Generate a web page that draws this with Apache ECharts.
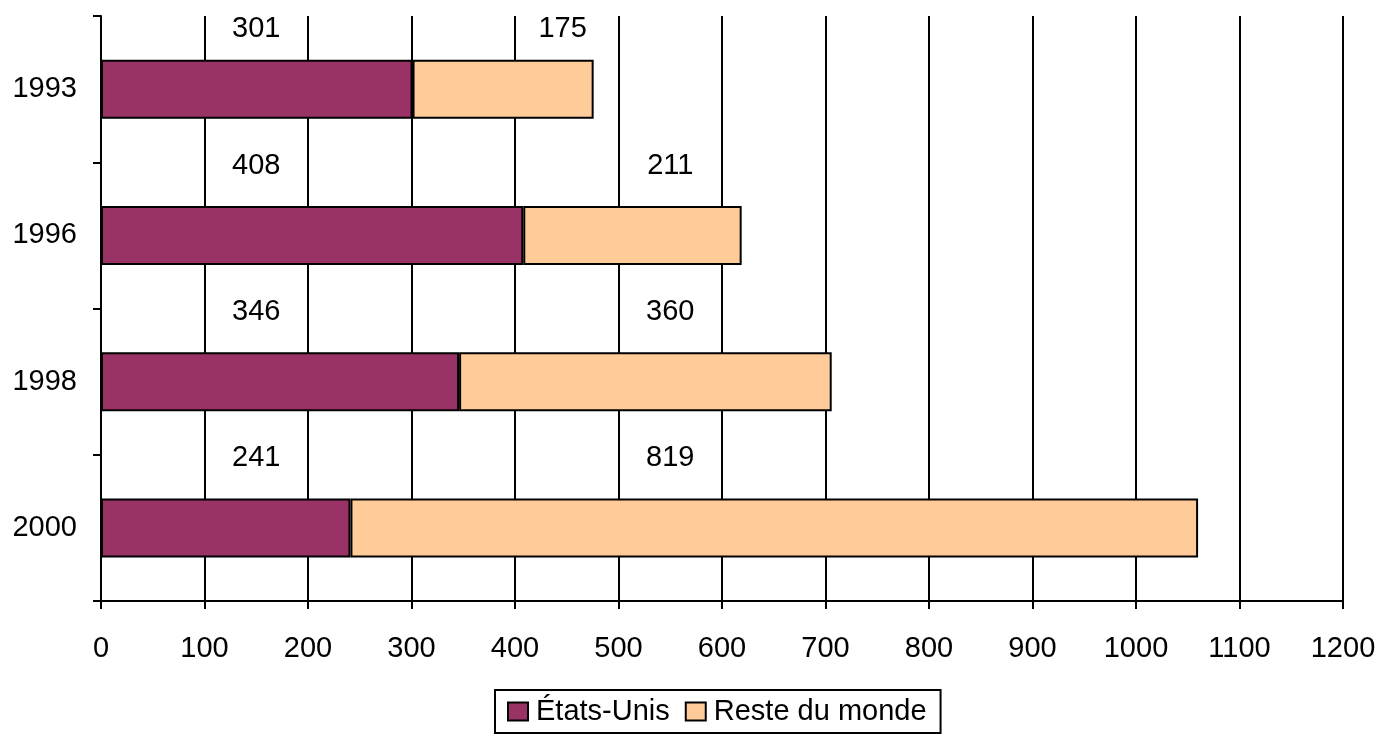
<!DOCTYPE html>
<html>
<head>
<meta charset="utf-8">
<script src="https://cdn.jsdelivr.net/npm/echarts@6/dist/echarts.min.js"></script>
<style>
  html, body { margin: 0; padding: 0; background: #fff; }
  #chart { width: 1384px; height: 735px; }
</style>
</head>
<body>
<div id="chart"></div>
<script>
var years = ['1993', '1996', '1998', '2000'];
var usa = [301, 408, 346, 241];
var rest = [175, 211, 360, 819];
var xTicks = [0, 100, 200, 300, 400, 500, 600, 700, 800, 900, 1000, 1100, 1200];

// labels sit above the bars, roughly in fixed columns like the original
function labelAt(start, len, anchor) {
    var a = Math.min(anchor, start + len - 30);
    var pct = (a - start) / len * 100;
    return { position: [pct + '%', -40] };
}

var chartDom = document.getElementById('chart');
var myChart = echarts.init(chartDom);
var font = 'Liberation Sans, Arial, sans-serif';
var fs = 29;

var barLabel = {
    show: true, align: 'center', verticalAlign: 'middle',
    fontSize: fs, color: '#000', fontFamily: font
};

var option = {
    animation: false,
    textStyle: { fontFamily: font },
    grid: { left: 101, right: 41, top: 16, bottom: 134, containLabel: false },
    legend: {
        top: 690,
        left: 495,
        padding: [7, 14, 7, 12],
        borderColor: '#000',
        borderWidth: 2,
        itemWidth: 20,
        itemHeight: 18,
        itemGap: 15,
        icon: 'rect',
        textStyle: { fontSize: fs, color: '#000', fontFamily: font, padding: [0, 0, 0, 3] },
        data: ['États-Unis', 'Reste du monde']
    },
    xAxis: {
        type: 'value',
        min: xTicks[0],
        max: xTicks[xTicks.length - 1],
        interval: 100,
        axisLine: { show: true, lineStyle: { color: '#000', width: 2 } },
        axisTick: { show: true, length: 8, lineStyle: { color: '#000', width: 2 } },
        splitLine: { show: true, lineStyle: { color: '#000', width: 2 } },
        axisLabel: {
            fontSize: fs, color: '#000', margin: 33, fontFamily: font,
            formatter: function (v) { return String(v); }
        }
    },
    yAxis: {
        type: 'category',
        inverse: true,
        data: years,
        axisLine: { show: true, lineStyle: { color: '#000', width: 2 } },
        axisTick: { show: true, length: 8, lineStyle: { color: '#000', width: 2 } },
        axisLabel: { fontSize: fs, color: '#000', margin: 24, fontFamily: font }
    },
    // keep the top labels inside the plot
    labelLayout: function (p) {
        var cy = p.labelRect.y + p.labelRect.height / 2;
        if (cy < 29) {
            return { y: 29 };
        }
        return {};
    },
    series: [
        {
            name: 'États-Unis',
            type: 'bar',
            stack: 'total',
            barWidth: 59,
            itemStyle: { color: '#993366', borderColor: '#000', borderWidth: 2 },
            label: barLabel,
            data: usa.map(function (v) {
                return { value: v, label: labelAt(0, v, 150) };
            })
        },
        {
            name: 'Reste du monde',
            type: 'bar',
            stack: 'total',
            barWidth: 59,
            itemStyle: { color: '#FFCC99', borderColor: '#000', borderWidth: 2 },
            label: barLabel,
            data: rest.map(function (v, i) {
                return { value: v, label: labelAt(usa[i], v, 550) };
            })
        }
    ]
};

option && myChart.setOption(option);
</script>
</body>
</html>
